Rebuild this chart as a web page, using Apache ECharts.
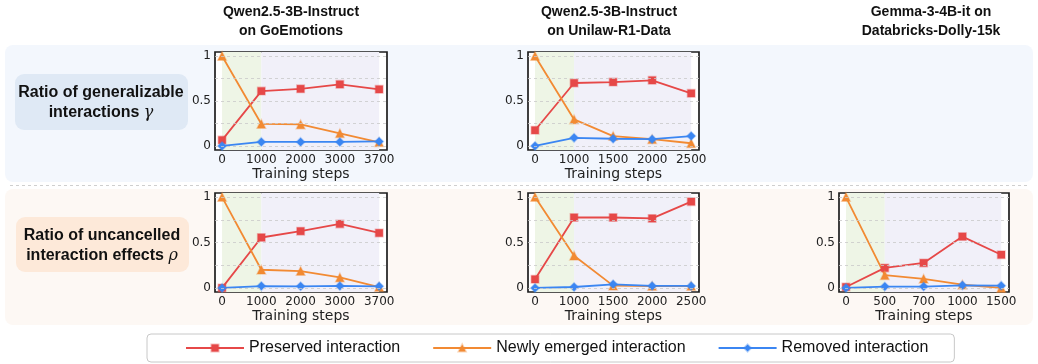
<!DOCTYPE html>
<html><head><meta charset="utf-8">
<script src="https://cdn.jsdelivr.net/npm/echarts@6/dist/echarts.min.js"></script>
<style>html,body{margin:0;padding:0;background:#fff}#c{width:1038px;height:364px}</style>
</head><body><div id="c"></div>
<script>
// ---- data ----
const seriesNames = ['Preserved interaction', 'Newly emerged interaction', 'Removed interaction'];
const colTitles = ['Qwen2.5-3B-Instruct\non GoEmotions', 'Qwen2.5-3B-Instruct\non Unilaw-R1-Data', 'Gemma-3-4B-it on\nDatabricks-Dolly-15k'];
const goEmoSteps = ['0', '1000', '2000', '3000', '3700'];
const unilawSteps = ['0', '1000', '1500', '2000', '2500'];
const dollySteps = ['0', '500', '700', '1000', '1500'];

const gammaGoPreserved = [0.065, 0.61, 0.635, 0.685, 0.63];
const gammaGoEmerged   = [1.0, 0.245, 0.24, 0.14, 0.04];
const gammaGoRemoved   = [0.0, 0.045, 0.045, 0.045, 0.05];

const gammaUniPreserved = [0.175, 0.70, 0.71, 0.73, 0.585];
const gammaUniEmerged   = [1.0, 0.295, 0.11, 0.075, 0.03];
const gammaUniRemoved   = [0.0, 0.09, 0.08, 0.075, 0.11];

const rhoGoPreserved = [0.0, 0.555, 0.625, 0.705, 0.605];
const rhoGoEmerged   = [1.0, 0.2, 0.185, 0.115, 0.01];
const rhoGoRemoved   = [0.0, 0.02, 0.018, 0.022, 0.018];

const rhoUniPreserved = [0.095, 0.775, 0.775, 0.765, 0.95];
const rhoUniEmerged   = [1.0, 0.355, 0.025, 0.02, 0.02];
const rhoUniRemoved   = [0.0, 0.01, 0.04, 0.022, 0.022];

const rhoDollyPreserved = [0.01, 0.22, 0.275, 0.565, 0.365];
const rhoDollyEmerged   = [1.0, 0.14, 0.1, 0.035, 0.0];
const rhoDollyRemoved   = [0.0, 0.015, 0.015, 0.028, 0.025];

const yTicks = [0, 0.5, 1];
const yGridLines = [0, 0.25, 0.5, 0.75, 1];

// ---- layout / style ----
const colors = ['#e64848', '#f28a33', '#3b86f2'];
const halos = ['rgba(230,72,72,0.35)', 'rgba(242,138,51,0.35)', 'rgba(59,134,242,0.35)'];
const symbols = ['rect', 'triangle', 'diamond'];
const symSizes = [7.5, 8.5, 8.5];

const panels = [
  {left: 215, top: 52, width: 172, height: 98, steps: goEmoSteps, data: [gammaGoPreserved, gammaGoEmerged, gammaGoRemoved]},
  {left: 528, top: 52, width: 171, height: 98, steps: unilawSteps, data: [gammaUniPreserved, gammaUniEmerged, gammaUniRemoved]},
  {left: 215, top: 193, width: 172, height: 99, steps: goEmoSteps, data: [rhoGoPreserved, rhoGoEmerged, rhoGoRemoved]},
  {left: 528, top: 193, width: 171, height: 99, steps: unilawSteps, data: [rhoUniPreserved, rhoUniEmerged, rhoUniRemoved]},
  {left: 839, top: 193, width: 170, height: 99, steps: dollySteps, data: [rhoDollyPreserved, rhoDollyEmerged, rhoDollyRemoved]}
];

const grid = [], xAxis = [], yAxis = [], series = [];
panels.forEach((p, i) => {
  grid.push({left: p.left, top: p.top, width: p.width, height: p.height, show: true,
    backgroundColor: '#ffffff', borderColor: '#1e1e1e', borderWidth: 1.7, containLabel: false});
  const steps = p.steps;
  xAxis.push({type: 'value', gridIndex: i, min: -0.18, max: 4.2,
    axisLine: {show: false}, axisTick: {show: false}, splitLine: {show: false},
    axisLabel: {customValues: [0, 1, 2, 3, 4], formatter: v => steps[Math.round(v)],
      color: '#222', fontSize: 12, fontFamily: 'DejaVu Sans', margin: 4},
    name: 'Training steps', nameLocation: 'middle', nameGap: 15,
    nameTextStyle: {color: '#222', fontSize: 14, fontFamily: 'DejaVu Sans', verticalAlign: 'top'}});
  yAxis.push({type: 'value', gridIndex: i, min: -0.045, max: 1.045,
    axisLine: {show: false}, axisTick: {show: false}, splitLine: {show: false},
    axisLabel: {customValues: yTicks, formatter: v => String(v),
      color: '#222', fontSize: 12, fontFamily: 'DejaVu Sans', margin: 4}});
  series.push({type: 'line', xAxisIndex: i, yAxisIndex: i, data: [], z: 1, silent: true,
    markArea: {silent: true, data: [
      [{xAxis: 0, itemStyle: {color: '#eef5e6'}}, {xAxis: 1}],
      [{xAxis: 1, itemStyle: {color: '#f1f0f9'}}, {xAxis: 4}]
    ]},
    markLine: {silent: true, symbol: 'none', label: {show: false},
      lineStyle: {type: [3, 3], color: '#c9c9c9', width: 0.8},
      data: yGridLines.map(v => ({yAxis: v}))}
  });
  p.data.forEach((arr, k) => {
    series.push({name: seriesNames[k], type: 'line', xAxisIndex: i, yAxisIndex: i, z: 3,
      data: arr.map((v, j) => [j, v]),
      symbol: symbols[k], symbolSize: symSizes[k], showSymbol: true,
      lineStyle: {color: colors[k], width: 1.8},
      itemStyle: {color: colors[k], borderColor: halos[k], borderWidth: 1.5},
      emphasis: {disabled: true}});
  });
});

const graphic = [
  {type: 'rect', z: -10, shape: {x: 5, y: 45, width: 1028, height: 137, r: 8}, style: {fill: '#f3f7fd'}},
  {type: 'rect', z: -10, shape: {x: 5, y: 189, width: 1028, height: 136, r: 8}, style: {fill: '#fdf8f4'}},
  {type: 'line', z: -9, shape: {x1: 10, y1: 185.5, x2: 1030, y2: 185.5}, style: {stroke: '#cfcfcf', lineWidth: 1, lineDash: [3, 3]}},
  {type: 'rect', z: -8, shape: {x: 15, y: 74, width: 173, height: 56, r: 9}, style: {fill: '#dfe9f5'}},
  {type: 'rect', z: -8, shape: {x: 16, y: 217, width: 173, height: 55, r: 9}, style: {fill: '#fde9d9'}},
  {type: 'text', x: 101, y: 103, z: 5, style: {
    text: '{b|Ratio of generalizable}\n{b|interactions }{g|γ}',
    align: 'center', verticalAlign: 'middle', textAlign: 'center', textVerticalAlign: 'middle',
    rich: {b: {fontSize: 16, fontWeight: 'bold', fontFamily: 'Liberation Sans', fill: '#111', color: '#111', lineHeight: 20},
           g: {fontSize: 16, fontStyle: 'italic', fontFamily: 'DejaVu Serif', fill: '#111', color: '#111', lineHeight: 20}}}},
  {type: 'text', x: 102, y: 246, z: 5, style: {
    text: '{b|Ratio of uncancelled}\n{b|interaction effects }{g|ρ}',
    align: 'center', verticalAlign: 'middle', textAlign: 'center', textVerticalAlign: 'middle',
    rich: {b: {fontSize: 16, fontWeight: 'bold', fontFamily: 'Liberation Sans', fill: '#111', color: '#111', lineHeight: 20},
           g: {fontSize: 16, fontStyle: 'italic', fontFamily: 'DejaVu Serif', fill: '#111', color: '#111', lineHeight: 20}}}}
];
const titleX = [291, 609, 931];
colTitles.forEach((t, i) => {
  graphic.push({type: 'text', x: titleX[i], y: 22, z: 5, style: {
    text: t, align: 'center', verticalAlign: 'middle', textAlign: 'center', textVerticalAlign: 'middle',
    font: 'bold 14px "Liberation Sans"', lineHeight: 19, fill: '#111'}});
});

const chart = echarts.init(document.getElementById('c'), null, {renderer: 'canvas'});
chart.setOption({
  animation: false,
  backgroundColor: '#ffffff',
  grid, xAxis, yAxis, series, graphic,
  legend: {data: seriesNames, left: 147, top: 334, orient: 'horizontal',
    itemWidth: 58, itemHeight: 9, itemGap: 32,
    padding: [6, 26, 6, 38],
    borderColor: '#c8c8c8', borderWidth: 1, borderRadius: 4, backgroundColor: '#ffffff',
    textStyle: {fontSize: 16, fontFamily: 'Liberation Sans', color: '#111'}}
});
</script></body></html>
